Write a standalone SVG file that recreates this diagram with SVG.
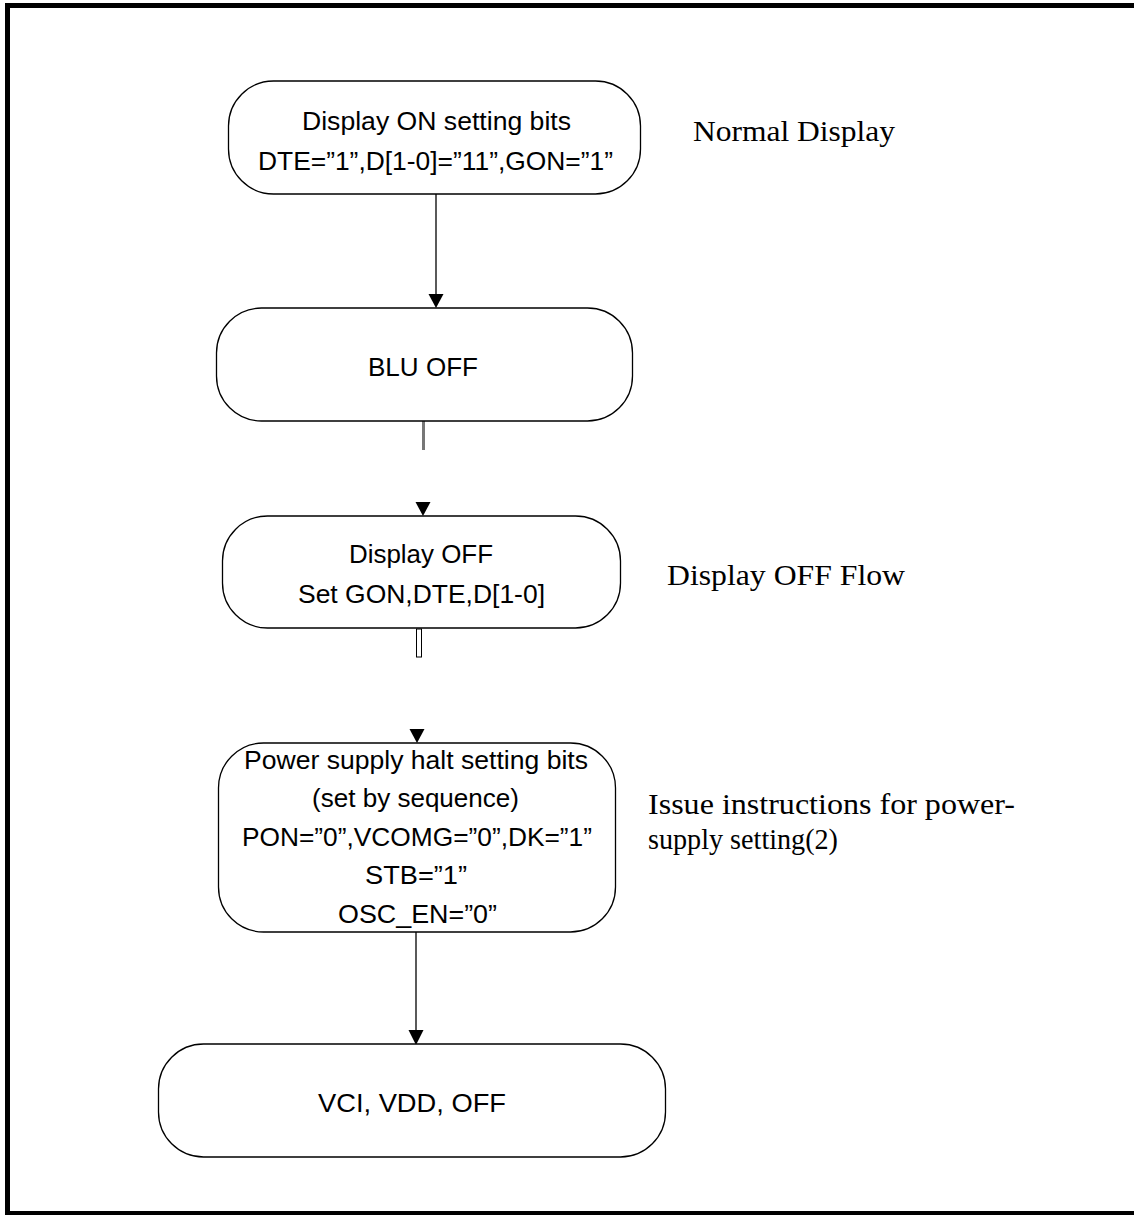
<svg xmlns="http://www.w3.org/2000/svg" width="1134" height="1215" viewBox="0 0 1134 1215">
<style>
.node rect{fill:#fff;stroke:#000;stroke-width:1.3}
.t{font-family:"Liberation Sans",Arial,sans-serif;font-size:26px;fill:#000;text-anchor:middle}
.lbl{font-family:"Liberation Serif","Times New Roman",serif;font-size:29px;fill:#000}
.c{stroke:#000;stroke-width:1.3;fill:none}
</style>
<rect x="7.5" y="5.5" width="1140" height="1208" fill="#fff" stroke="#000" stroke-width="5"/>
<g id="connectors">
<line class="c" x1="436" y1="194" x2="436" y2="294"/>
<path d="M428.5,294 L443.5,294 L436,308 Z" fill="#000"/>
<line x1="423.5" y1="421" x2="423.5" y2="450" stroke="#777" stroke-width="3"/>
<path d="M415.5,502 L430.5,502 L423,516 Z" fill="#000"/>
<rect x="416.5" y="629" width="5" height="28" fill="#fff" stroke="#000" stroke-width="1"/>
<path d="M409.5,729 L424.5,729 L417,743 Z" fill="#000"/>
<line class="c" x1="416" y1="932" x2="416" y2="1031"/>
<path d="M408.5,1030 L423.5,1030 L416,1045 Z" fill="#000"/>
</g>
<g id="n1" class="node">
<rect x="228.5" y="81" width="412" height="113" rx="45" ry="45"/>
<text class="t" x="436.5" y="130" textLength="269" lengthAdjust="spacingAndGlyphs">Display ON setting bits</text>
<text class="t" x="435.5" y="170" textLength="355" lengthAdjust="spacingAndGlyphs">DTE=”1”,D[1-0]=”11”,GON=”1”</text>
</g>
<g id="n2" class="node">
<rect x="216.5" y="308" width="416" height="113" rx="45" ry="45"/>
<text class="t" x="423" y="376" textLength="110" lengthAdjust="spacingAndGlyphs">BLU OFF</text>
</g>
<g id="n3" class="node">
<rect x="222.5" y="516" width="398" height="112" rx="45" ry="45"/>
<text class="t" x="421" y="563" textLength="144" lengthAdjust="spacingAndGlyphs">Display OFF</text>
<text class="t" x="421.5" y="603" textLength="247" lengthAdjust="spacingAndGlyphs">Set GON,DTE,D[1-0]</text>
</g>
<g id="n4" class="node">
<rect x="218.5" y="743" width="397" height="189" rx="45" ry="45"/>
<text class="t" x="416" y="769" textLength="344" lengthAdjust="spacingAndGlyphs">Power supply halt setting bits</text>
<text class="t" x="415.5" y="807" textLength="207" lengthAdjust="spacingAndGlyphs">(set by sequence)</text>
<text class="t" x="417" y="846" textLength="350" lengthAdjust="spacingAndGlyphs">PON=”0”,VCOMG=”0”,DK=”1”</text>
<text class="t" x="416" y="884" textLength="102" lengthAdjust="spacingAndGlyphs">STB=”1”</text>
<text class="t" x="417.5" y="923" textLength="159" lengthAdjust="spacingAndGlyphs">OSC_EN=”0”</text>
</g>
<g id="n5" class="node">
<rect x="158.5" y="1044" width="507" height="113" rx="45" ry="45"/>
<text class="t" x="412" y="1112" textLength="188" lengthAdjust="spacingAndGlyphs">VCI, VDD, OFF</text>
</g>
<g id="labels">
<text class="lbl" x="693" y="141" textLength="202" lengthAdjust="spacingAndGlyphs">Normal Display</text>
<text class="lbl" x="667" y="585" textLength="238" lengthAdjust="spacingAndGlyphs">Display OFF Flow</text>
<text class="lbl" x="648" y="814" textLength="367" lengthAdjust="spacingAndGlyphs">Issue instructions for power-</text>
<text class="lbl" x="648" y="849" textLength="190" lengthAdjust="spacingAndGlyphs">supply setting(2)</text>
</g>
</svg>
